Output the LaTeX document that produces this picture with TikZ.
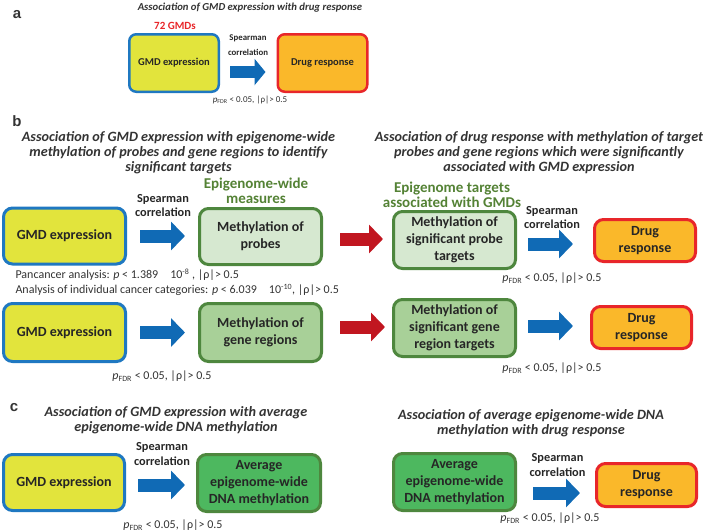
\documentclass[tikz,border=0pt]{standalone}
\usepackage{fontspec}
\setmainfont{Carlito}
\newfontfamily\letterfont{Liberation Sans}
\usetikzlibrary{arrows.meta}
\definecolor{boxblue}{RGB}{31,120,193}
\definecolor{arrblue}{RGB}{16,106,181}
\definecolor{arrred}{RGB}{193,22,32}
\definecolor{boxred}{RGB}{232,38,42}
\definecolor{gmdyellow}{RGB}{226,228,60}
\definecolor{drugorange}{RGB}{250,184,42}
\definecolor{boxgreen}{RGB}{78,135,62}
\definecolor{palegreen}{RGB}{214,232,208}
\definecolor{midgreen}{RGB}{168,208,152}
\definecolor{avggreen}{RGB}{77,184,95}
\definecolor{lblgreen}{RGB}{84,130,53}
\definecolor{titlegray}{RGB}{51,51,51}
\definecolor{boxtext}{RGB}{38,38,38}
\begin{document}
\begin{tikzpicture}[x=1pt,y=-1pt,
    letter/.style={font=\letterfont\fontsize{15}{15}\selectfont\bfseries, text=titlegray},
    title/.style={align=center, text=titlegray, font=\fontsize{14.2}{15}\selectfont\bfseries\itshape},
    titlesmall/.style={title, font=\fontsize{10.7}{12}\selectfont\bfseries\itshape},
    box/.style={rounded corners=9pt, line width=3pt, align=center, text=boxtext, inner sep=0pt,
      minimum width=122pt, font=\fontsize{14}{17}\selectfont\bfseries},
    boxsmall/.style={box, rounded corners=7pt, line width=2.5pt, minimum width=89.5pt,
      minimum height=57.5pt, font=\fontsize{10.5}{12}\selectfont\bfseries},
    gmd/.style={draw=boxblue, fill=gmdyellow},
    drug/.style={draw=boxred, fill=drugorange},
    probes/.style={draw=boxgreen, fill=palegreen},
    regions/.style={draw=boxgreen, fill=midgreen},
    average/.style={draw=boxgreen, fill=avggreen},
    corr/.style={align=center, text=boxtext, font=\fontsize{12.3}{14.5}\selectfont\bfseries},
    corrsmall/.style={corr, font=\fontsize{8.8}{15}\selectfont\bfseries},
    stat/.style={text=titlegray, font=\fontsize{12}{14}\selectfont},
    statsmall/.style={stat, font=\fontsize{9}{11}\selectfont},
    measure/.style={align=center, text=lblgreen, font=\fontsize{15}{15}\selectfont\bfseries},
    bluearr/.style={draw=arrblue, line width=13pt, -{Triangle[length=14pt 0 0, width=28pt 0 0]}},
    redarr/.style={bluearr, draw=arrred},
    bluearrsmall/.style={draw=arrblue, line width=12pt, -{Triangle[length=11pt 0 0, width=26pt 0 0]}}]
  \useasboundingbox (0,0) rectangle (707,531);
  % Panel a
  \node[letter] (la) at (17,15) {a};
  \node[titlesmall] (ta) at (250,8) {Association of GMD expression with drug response};
  \node[boxsmall, gmd] (gmdA) at (174,63) {GMD expression};
  \node[boxsmall, drug] (drugA) at (322.5,63) {Drug response};
  \node[text=boxred, font=\fontsize{11}{12}\selectfont\bfseries] (nA) at (175,26) {72 GMDs};
  \node[corrsmall] (corrA) at (248,45) {Spearman\\correlation};
  \node[statsmall] (sA) at (250,100) {\textit{p}\textsubscript{FDR} < 0.05, |ρ|> 0.5};
  \draw[bluearrsmall, shorten <=10pt, shorten >=11pt] ([yshift=-9pt]gmdA.east) -- ([yshift=-9pt]gmdA.east -| drugA.west);
  % Panel b
  \node[letter] (lb) at (17,121) {b};
  \node[title] (tb1) at (178.5,153) {Association of GMD expression with epigenome-wide\\methylation of probes and gene regions to identify\\significant targets};
  \node[title] (tb2) at (539,153) {Association of drug response with methylation of target\\probes and gene regions which were significantly\\associated with GMD expression};
  \node[measure] (mb1) at (256,190.5) {Epigenome-wide\\measures};
  \node[measure] (mb2) at (452,194.5) {Epigenome targets\\associated with GMDs};
  \node[box, gmd, minimum height=56pt] (gmdB1) at (64.5,236) {GMD expression};
  \node[box, probes, minimum height=56pt] (probes) at (260.5,236.5) {Methylation of\\probes};
  \node[box, probes, minimum height=57pt] (ptarget) at (454.5,240) {Methylation of\\significant probe\\targets};
  \node[box, drug, minimum width=101pt, minimum height=42pt] (drugB1) at (645,240.5) {Drug\\response};
  \node[corr] (corrB1) at (163,205.5) {Spearman\\correlation};
  \node[corr] (corrB2) at (552,217.5) {Spearman\\correlation};
  \node[stat, anchor=west] (pan) at (12,275) {Pancancer analysis: \textit{p} < 1.389\hspace{12pt}10\textsuperscript{-8} , |ρ|> 0.5};
  \node[stat, anchor=west] (ind) at (12,290) {Analysis of individual cancer categories: \textit{p} < 6.039\hspace{12pt}10\textsuperscript{-10}, |ρ|> 0.5};
  \node[stat] (sB1) at (552,278) {\textit{p}\textsubscript{FDR} < 0.05, |ρ|> 0.5};
  \node[box, gmd, minimum height=58pt] (gmdB2) at (64.5,332.5) {GMD expression};
  \node[box, regions, minimum height=58pt] (genes) at (260.5,332.5) {Methylation of\\gene regions};
  \node[box, regions, minimum height=57pt] (gtarget) at (454.5,328) {Methylation of\\significant gene\\region targets};
  \node[box, drug, minimum width=100pt, minimum height=42pt] (drugB2) at (641.5,327.5) {Drug\\response};
  \node[stat] (sB2) at (162,376) {\textit{p}\textsubscript{FDR} < 0.05, |ρ|> 0.5};
  \node[stat] (sB3) at (552,368) {\textit{p}\textsubscript{FDR} < 0.05, |ρ|> 0.5};
  \draw[bluearr, shorten <=13pt, shorten >=13pt] (gmdB1.east) -- (gmdB1.east -| probes.west);
  \draw[redarr, shorten <=17pt, shorten >=9pt] ([yshift=-2.5pt]probes.east) -- ([yshift=-2.5pt]probes.east -| ptarget.west);
  \draw[bluearr, shorten <=11pt, shorten >=20pt] ([yshift=-4pt]ptarget.east) -- ([yshift=-4pt]ptarget.east -| drugB1.west);
  \draw[bluearr, shorten <=13pt, shorten >=13pt] (gmdB2.east) -- (gmdB2.east -| genes.west);
  \draw[redarr, shorten <=17pt, shorten >=7pt] ([yshift=5.5pt]genes.east) -- ([yshift=5.5pt]genes.east -| gtarget.west);
  \draw[bluearr, shorten <=11pt, shorten >=17pt] ([yshift=2pt]gtarget.east) -- ([yshift=2pt]gtarget.east -| drugB2.west);
  % Panel c
  \node[letter] (lc) at (14,408) {c};
  \node[title] (tc1) at (176,420.5) {Association of GMD expression with average\\epigenome-wide DNA methylation};
  \node[title] (tc2) at (531,423) {Association of average epigenome-wide DNA\\methylation with drug response};
  \node[box, gmd, minimum width=121pt, minimum height=56pt] (gmdC) at (64,482.5) {GMD expression};
  \node[box, average, minimum width=123pt, minimum height=57pt] (avgC1) at (259,483) {Average\\epigenome-wide\\DNA methylation};
  \node[box, average, minimum height=57pt] (avgC2) at (454.5,482) {Average\\epigenome-wide\\DNA methylation};
  \node[box, drug, minimum width=100pt, minimum height=43pt] (drugC) at (646.5,485) {Drug\\response};
  \node[corr] (corrC1) at (162,454) {Spearman\\correlation};
  \node[corr] (corrC2) at (557.5,465) {Spearman\\correlation};
  \node[stat] (sC1) at (173,525) {\textit{p}\textsubscript{FDR} < 0.05, |ρ|> 0.5};
  \node[stat] (sC2) at (550,518) {\textit{p}\textsubscript{FDR} < 0.05, |ρ|> 0.5};
  \draw[bluearr, shorten <=12pt, shorten >=11pt] ([yshift=-2.5pt]gmdC.east) -- ([yshift=-2.5pt]gmdC.east -| avgC1.west);
  \draw[bluearr, shorten <=16pt, shorten >=15pt] ([yshift=-11pt]avgC2.east) -- ([yshift=-11pt]avgC2.east -| drugC.west);
\end{tikzpicture}
\end{document}
